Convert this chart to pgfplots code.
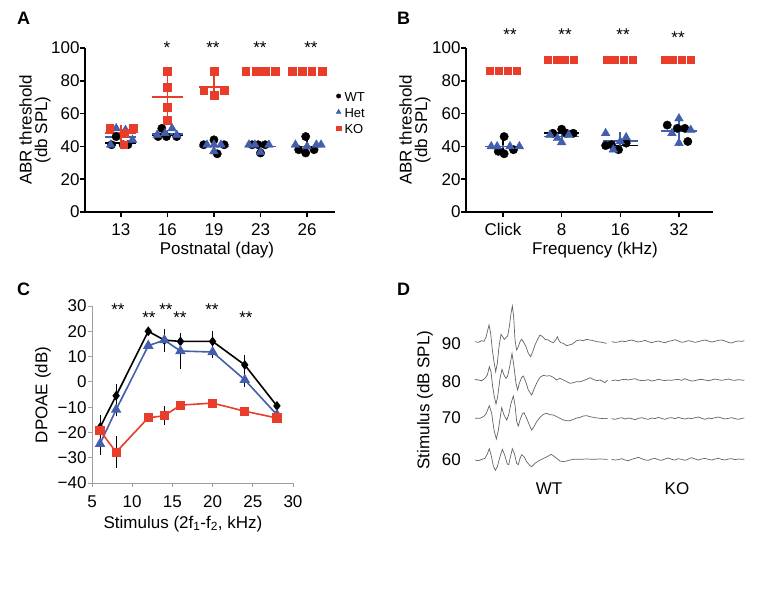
\documentclass[border=0pt]{standalone}
\usepackage{pgfplots}
\pgfplotsset{compat=1.18}
\usepackage{pgfplotstable}
\usepackage{fontspec}
\setmainfont{Liberation Sans}
\definecolor{koRed}{RGB}{233,61,43}
\definecolor{hetBlue}{RGB}{66,94,172}
\definecolor{trace}{RGB}{100,100,100}
\newcommand{\fs}{\fontsize{17}{17}\selectfont}

% ---- Panel D traces (x, y in picture units) ----
\pgfplotstableread{
x y
285 155
295 157
305 152
312 154
318 142
322 125
327 105
332 130
337 180
342 215
347 245
352 220
357 170
363 133
368 140
373 148
378 143
383 138
388 110
393 70
397 48
401 80
405 150
410 180
415 170
420 155
425 148
430 155
438 170
445 190
452 200
458 185
465 165
472 150
480 135
488 140
495 148
505 150
512 155
520 158
527 150
532 140
537 152
542 158
550 160
560 167
567 165
575 163
582 158
590 152
600 150
610 152
620 148
630 150
640 152
650 155
660 156
670 158
680 160
}\wtA
\pgfplotstableread{
x y
285 268
295 270
305 272
315 265
322 255
328 230
333 245
338 290
343 320
348 342
353 320
360 265
366 238
372 255
378 265
383 258
390 225
396 190
402 230
408 280
413 300
418 280
425 262
430 258
437 275
445 300
455 315
463 295
472 275
480 262
490 256
500 258
510 257
520 262
530 270
540 265
550 270
560 275
570 280
580 278
590 275
600 275
610 272
620 268
630 263
640 268
650 272
660 270
670 275
675 278
683 270
}\wtB
\pgfplotstableread{
x y
285 385
300 385
310 380
318 372
328 347
335 370
342 420
349 447
355 420
365 353
372 375
380 390
386 375
393 340
400 318
405 345
410 395
415 408
420 390
427 372
432 368
440 385
448 405
455 420
462 410
470 395
480 382
490 373
500 370
510 374
520 375
530 380
540 385
550 390
560 392
570 392
580 388
590 384
600 382
610 378
620 377
630 380
645 383
660 385
675 386
683 385
}\wtC
\pgfplotstableread{
x y
285 510
295 512
305 508
315 505
322 492
328 476
334 498
340 528
346 541
352 530
360 500
367 478
374 495
382 522
386 524
392 498
397 476
403 490
410 520
415 524
420 505
425 494
432 500
440 515
450 527
455 530
465 520
475 513
485 508
495 503
505 498
513 493
520 497
530 505
540 513
550 515
560 513
570 510
580 508
600 508
620 507
640 508
660 507
683 508
}\wtD
\pgfplotstableread{
x y
695 155
705 157
715 156
725 153
735 155
745 152
755 150
765 153
775 156
785 154
795 151
805 155
815 158
825 155
835 153
845 156
855 158
865 154
875 152
885 149
895 153
905 157
915 155
925 152
935 154
945 157
955 155
965 152
975 150
985 153
995 156
1005 154
1015 151
1025 150
1035 153
1045 157
1055 159
1065 155
1075 153
1085 154
1093 152
}\koA
\pgfplotstableread{
x y
695 272
705 270
715 272
725 269
735 268
745 270
755 268
765 266
775 270
785 272
795 271
805 269
815 273
825 271
835 268
845 270
855 272
865 270
875 271
885 269
895 268
905 271
915 266
925 270
935 273
945 272
955 269
965 268
975 270
985 272
995 270
1005 267
1015 269
1025 271
1035 269
1045 267
1055 270
1065 271
1075 269
1085 270
1093 271
}\koB
\pgfplotstableread{
x y
695 386
705 388
715 385
725 383
735 387
745 384
755 386
765 389
775 385
785 383
795 386
805 388
815 384
825 386
835 382
845 385
855 388
865 384
875 383
885 386
895 382
905 385
915 387
925 384
935 386
945 383
955 381
965 385
975 388
985 384
995 386
1005 383
1015 381
1025 384
1035 387
1045 385
1055 383
1065 386
1075 388
1085 385
1093 384
}\koC
\pgfplotstableread{
x y
695 508
705 510
715 509
725 506
735 510
745 512
755 508
765 505
775 502
785 506
795 510
805 511
815 507
825 505
835 509
845 511
855 507
865 504
875 508
885 510
895 506
905 508
915 511
925 507
935 503
945 507
955 510
965 507
975 505
985 508
995 510
1005 507
1015 505
1025 508
1035 510
1045 507
1055 506
1065 509
1075 507
1085 508
1093 508
}\koD

\pgfplotsset{
  abrstyle/.style={
    anchor=south west, scale only axis, clip=false,
    ymin=0, ymax=100, ytick={0,20,...,100},
    axis lines*=left, axis line style={line width=1.7pt, -},
    tick style={black, line width=1.5pt}, tick align=outside, major tick length=5pt,
    tick label style={font=\fs}, /pgf/number format/assume math mode=true,
    yticklabel style={xshift=3pt}, xticklabel style={yshift=-3pt},
  },
}

\begin{document}
\begin{tikzpicture}[x=1pt,y=1pt]
\useasboundingbox (0,0) rectangle (769,-597);

% ================= Panel A =================
\begin{axis}[abrstyle, at={(85pt,-212pt)}, width=250pt, height=164pt,
  xmin=-0.77, xmax=4.6, xtick={0,...,4}, xticklabels={13,16,19,23,26},
  legend style={at={(axis description cs:1.004,0.73)}, anchor=north west, draw=none, fill=none,
    font=\fontsize{13}{13}\selectfont, row sep=6.5pt, inner sep=0pt,
    nodes={inner sep=0pt, text height=9.5pt, text depth=0pt},
    /tikz/every odd column/.append style={column sep=3.5pt}},
  legend image code/.code={\draw[#1] plot coordinates {(0pt,1.2pt)};},
  legend cell align=left]
\addlegendimage{only marks, mark=*, mark size=2.2pt, black}
\addlegendentry{WT}
\addlegendimage{only marks, mark=triangle*, mark size=2.8pt, hetBlue}
\addlegendentry{Het}
\addlegendimage{only marks, mark=square*, mark size=2.3pt, koRed}
\addlegendentry{KO}
% WT
\addplot[only marks, mark=*, mark size=4.2pt, black] coordinates {
 (-0.2,41) (-0.1,46) (0.05,41) (0.15,41)
 (0.88,51) (0.8,46) (0.98,46) (1.2,46)
 (2,44) (1.78,41) (2.22,41) (2.07,35.5)
 (2.82,41) (3.1,41) (3,36) (2.95,41)
 (3.97,46) (3.97,36) (3.82,38) (4.15,38)};
% Het
\addplot[only marks, mark=triangle*, mark size=5pt, hetBlue] coordinates {
 (-0.22,41) (-0.1,51) (0.1,50) (0.25,44)
 (0.78,47) (0.95,48) (1.1,51) (1.2,47)
 (1.85,41) (2.15,41) (2,37) (2.0,41)
 (2.88,41) (3.18,41) (3,36.5) (2.75,41)
 (3.75,41) (4.2,41) (4.0,40) (4.3,41)};
% KO
\addplot[only marks, mark=square*, mark size=3.9pt, koRed] coordinates {
 (-0.24,51) (0.07,48) (0.06,41) (0.26,51)
 (1,86) (1,76) (1,64) (1,56)
 (2,86) (1.78,74) (2.22,74) (2,71)
 (2.68,86) (2.9,86) (3.1,86) (3.32,86)
 (3.68,86) (3.9,86) (4.1,86) (4.32,86)};
% means and SD
\addplot[black, line width=1.8pt, unbounded coords=jump] coordinates {
 (-0.33,42) (0.33,42) (0,nan) (0,40) (0,45) (0,nan)
 (0.67,47) (1.33,47) (1,nan) (1,45) (1,50) (1,nan)
 (1.67,40) (2.33,40) (2,nan) (2,37) (2,43) (2,nan)
 (2.67,40) (3.33,40) (3,nan) (3,37) (3,42) (3,nan)
 (3.67,40) (4.33,40) (4,nan) (4,36) (4,46.5)};
\addplot[hetBlue, line width=1.8pt, unbounded coords=jump] coordinates {
 (-0.33,45.5) (0.33,45.5) (0,nan) (0,42) (0,49) (0,nan)
 (0.67,47.5) (1.33,47.5) (1,nan) (1,45) (1,50) (1,nan)
 (1.67,40) (2.33,40) (2,nan) (2,35) (2,44) (2,nan)
 (2.67,40) (3.33,40) (3,nan) (3,36) (3,42) (3,nan)
 (3.67,40) (4.33,40) (4,nan) (4,39) (4,42)};
\addplot[koRed, line width=1.8pt, unbounded coords=jump] coordinates {
 (-0.33,48) (0.33,48) (0,nan) (0,41) (0,53) (0,nan)
 (0.67,70.3) (1.33,70.3) (1,nan) (1,55) (1,86) (1,nan)
 (1.67,76) (2.33,76) (2,nan) (2,70) (2,83)};
\end{axis}

% ================= Panel B =================
\begin{axis}[abrstyle, at={(466pt,-212pt)}, width=247pt, height=164pt,
  xmin=-0.63, xmax=3.58, xtick={0,...,3}, xticklabels={Click,8,16,32}]
\addplot[only marks, mark=*, mark size=4.2pt, black] coordinates {
 (0.02,46) (-0.08,37) (0.02,35.5) (0.18,38)
 (0.85,48) (1.0,50.5) (1.08,48) (1.2,48)
 (1.75,40.5) (1.97,38) (2.1,42) (1.85,41)
 (2.8,53) (2.97,51) (3.1,51) (3.15,43)};
\addplot[only marks, mark=triangle*, mark size=5pt, hetBlue] coordinates {
 (-0.2,40) (-0.1,40) (0.12,40) (0.28,40)
 (0.8,47) (0.93,45) (1.0,42.5) (1.12,47)
 (1.75,48) (1.88,38) (2.1,45.5) (2.0,43)
 (2.88,48) (3.0,57) (3.2,50) (3.0,42)};
\addplot[only marks, mark=square*, mark size=3.5pt, koRed] coordinates {
 (-0.22,86) (-0.07,86) (0.08,86) (0.23,86)
 (0.76,93) (0.91,93) (1.06,93) (1.21,93)
 (1.76,93) (1.91,93) (2.06,93) (2.21,93)
 (2.75,93) (2.9,93) (3.05,93) (3.2,93)};
\addplot[black, line width=1.8pt, unbounded coords=jump] coordinates {
 (-0.3,40) (0.3,40) (0,nan) (0,35.5) (0,46) (0,nan)
 (0.7,48) (1.3,48) (1,nan) (1,47) (1,50) (1,nan)
 (1.7,40.5) (2.3,40.5) (2,nan) (2,38) (2,42.5) (2,nan)
 (2.7,49.4) (3.3,49.4) (3,nan) (3,44) (3,53)};
\addplot[hetBlue, line width=1.8pt, unbounded coords=jump] coordinates {
 (-0.3,40) (0.3,40) (0,nan) (0,39) (0,41) (0,nan)
 (0.7,46) (1.3,46) (1,nan) (1,43) (1,49) (1,nan)
 (1.7,43.5) (2.3,43.5) (2,nan) (2,39) (2,49) (2,nan)
 (2.7,49.5) (3.3,49.5) (3,nan) (3,40) (3,58)};
\end{axis}

% ================= Panel C =================
\begin{axis}[at={(92pt,-483pt)}, anchor=south west, scale only axis, width=201pt, height=177pt,
  xmin=5, xmax=30, ymin=-40, ymax=30, clip=false,
  axis lines*=left, axis line style={gray!75, line width=0.9pt, -},
  tick style={gray!75, line width=0.9pt}, tick align=outside, major tick length=4pt,
  xtick={5,10,...,30}, ytick={-40,-30,...,30},
  yticklabels={−40,−30,−20,−10,0,10,20,30},
  tick label style={font=\fs}, /pgf/number format/assume math mode=true,
  yticklabel style={xshift=2pt}, xticklabel style={yshift=-5pt}]
\addplot[black, line width=1.6pt, mark=diamond*, mark size=3.6pt,
  error bars/.cd, y dir=both, y explicit, error mark=none,
  error bar style={black, line width=0.8pt}] coordinates {
 (6,-18) +- (0,5) (8,-5.5) +- (0,4.5) (12,20) +- (0,1) (14,16.5) +- (0,1)
 (16,16) +- (0,3) (20,16) +- (0,4) (24,6.7) +- (0,4) (28,-9.5) +- (0,1.5)};
\addplot[hetBlue, line width=1.6pt, mark=triangle*, mark size=4.5pt,
  error bars/.cd, y dir=both, y explicit, error mark=none,
  error bar style={black, line width=0.8pt}] coordinates {
 (6,-24.5) +- (0,4.5) (8,-11) +- (0,2.5) (12,14.3) +- (0,1) (14,16.5) +- (0,4.5)
 (16,12.2) +- (0,7) (20,11.8) +- (0,2.5) (24,0.8) +- (0,3) (28,-13) +- (0,1)};
\addplot[koRed, line width=1.6pt, mark=square*, mark size=3.8pt,
  error bars/.cd, y dir=both, y explicit, error mark=none,
  error bar style={black, line width=0.8pt}] coordinates {
 (6,-19.3) +- (0,2) (8,-27.8) +- (0,6.3) (12,-14.2) +- (0,1) (14,-13.4) +- (0,3.8)
 (16,-9.2) +- (0,1) (20,-8.4) +- (0,1) (24,-11.6) +- (0,1) (28,-14.3) +- (0,2)};
\end{axis}

% ================= Panel D =================
\begin{axis}[at={(475pt,-476.67pt)}, anchor=south west, scale only axis, width=270pt, height=173.33pt,
  xmin=285, xmax=1095, ymin=-560, ymax=-40, clip=false,
  axis line style={draw=none}, xtick=\empty, major tick length=0pt,
  ytick={-508,-383,-275,-162}, yticklabels={60,70,80,90},
  yticklabel style={font=\fs, inner sep=0pt, xshift=-14pt}]
\addplot[trace, line width=0.7pt] table[x=x, y expr=-\thisrow{y}] {\wtA};
\addplot[trace, line width=0.7pt] table[x=x, y expr=-\thisrow{y}] {\wtB};
\addplot[trace, line width=0.7pt] table[x=x, y expr=-\thisrow{y}] {\wtC};
\addplot[trace, line width=0.7pt] table[x=x, y expr=-\thisrow{y}] {\wtD};
\addplot[trace, line width=0.7pt] table[x=x, y expr=-\thisrow{y}] {\koA};
\addplot[trace, line width=0.7pt] table[x=x, y expr=-\thisrow{y}] {\koB};
\addplot[trace, line width=0.7pt] table[x=x, y expr=-\thisrow{y}] {\koC};
\addplot[trace, line width=0.7pt] table[x=x, y expr=-\thisrow{y}] {\koD};
\end{axis}

% ================= Text =================
\begin{scope}[every node/.style={font=\fs, inner sep=0pt}]
% panel letters
\node[anchor=north west, font=\bfseries\fontsize{18}{18}\selectfont] at (17,-12) {A};
\node[anchor=north west, font=\bfseries\fontsize{18}{18}\selectfont] at (397,-12) {B};
\node[anchor=north west, font=\bfseries\fontsize{18}{18}\selectfont] at (17,-283) {C};
\node[anchor=north west, font=\bfseries\fontsize{18}{18}\selectfont] at (397,-283) {D};
% axis labels
\node[rotate=90, align=center, font=\fontsize{17}{15.5}\selectfont] at (35,-130) {ABR threshold\\(db SPL)};
\node[anchor=base] at (217,-254) {Postnatal (day)};
\node[rotate=90, align=center, font=\fontsize{17}{15.5}\selectfont] at (415,-130) {ABR threshold\\(db SPL)};
\node[anchor=base] at (595,-254) {Frequency (kHz)};
\node[rotate=90] at (43,-395) {DPOAE (dB)};
\node[anchor=base] at (183,-528) {Stimulus (2f\textsubscript{1}-f\textsubscript{2}, kHz)};
\node[rotate=90] at (425,-400) {Stimulus (dB SPL)};
\node at (549,-489) {WT};
\node at (677,-489) {KO};
% significance stars
\node[anchor=north] at (167,-42) {*};
\node[anchor=north] at (213,-42) {**};
\node[anchor=north] at (260,-42) {**};
\node[anchor=north] at (311,-42) {**};
\node[anchor=north] at (510,-29) {**};
\node[anchor=north] at (565,-29) {**};
\node[anchor=north] at (623,-29) {**};
\node[anchor=north] at (678,-32) {**};
\node[anchor=north] at (118,-304) {**};
\node[anchor=north] at (149,-312) {**};
\node[anchor=north] at (166,-304) {**};
\node[anchor=north] at (180,-312) {**};
\node[anchor=north] at (212,-304) {**};
\node[anchor=north] at (246,-312) {**};
\end{scope}
\end{tikzpicture}
\end{document}
